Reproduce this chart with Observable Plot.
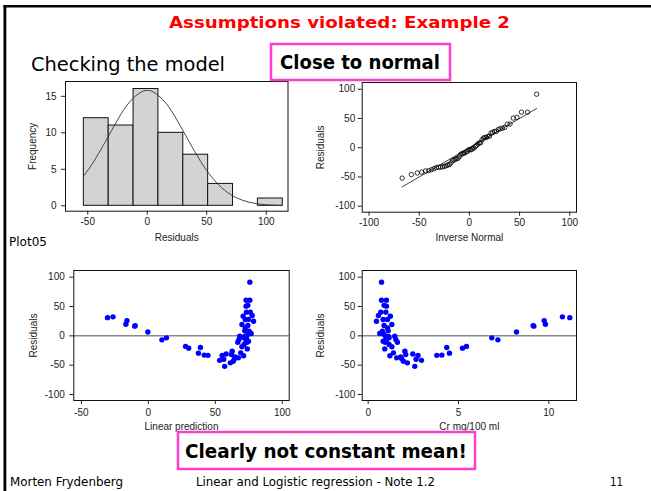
<!DOCTYPE html>
<html><head><meta charset="utf-8">
<script src="https://cdn.jsdelivr.net/npm/d3@7"></script>
<script src="https://cdn.jsdelivr.net/npm/@observablehq/plot@0.6"></script>
<style>
html,body{margin:0;padding:0;background:#fff;}
#page{position:relative;width:651px;height:491px;overflow:hidden;background:#fff;}
</style></head><body><div id="page"></div>
<script>
// ---------- data ----------
// histogram of residuals (bin edges and counts)
const histEdges = [-53.3, -32.4, -11.5, 9.4, 30.3, 51.2, 72.1, 93.0, 113.9];
const histCounts = [12, 11, 16, 10, 7, 3, 0, 1];
// overlaid normal curve
const normalCurveX = [-53, -45, -35, -25, -15, -5, 0, 5, 15, 25, 35, 45, 55, 65, 75, 85, 95, 105, 113];
const normalCurveY = [4.18, 6.05, 8.85, 11.75, 14.2, 15.6, 15.8, 15.6, 14.2, 11.75, 8.85, 6.05, 3.77, 2.14, 1.10, 0.52, 0.22, 0.09, 0.04];

// observations: creatinine, linear prediction, residual
const crValues = [11.16, 10.75, 9.81, 9.74, 9.17, 9.13, 8.21, 7.18, 6.84, 5.44, 5.22, 4.50, 4.35, 4.08, 3.80, 2.95, 2.76, 2.65, 2.58, 2.47,
  0.74, 0.74, 1.01, 0.88, 1.01, 0.70, 0.98, 0.57, 1.23, 0.46, 0.83, 1.07, 1.31, 0.88, 1.07, 0.79, 1.47, 0.64, 0.88, 0.98,
  1.16, 0.83, 1.01, 0.94, 1.53, 1.62, 1.16, 1.31, 0.92, 1.20, 1.40, 1.58, 1.86, 2.03, 2.08, 1.95, 2.17, 1.11, 1.12, 1.80];
const predValues = [-30.5, -26.4, -16.8, -16.0, -10.2, -9.8, -0.4, 10.1, 13.5, 27.8, 30.1, 37.4, 38.9, 41.7, 44.5, 53.2, 55.1, 56.3, 57.0, 58.1,
  75.8, 75.8, 73.0, 74.3, 73.0, 76.2, 73.3, 77.5, 70.8, 78.6, 74.8, 72.4, 69.9, 74.3, 72.4, 75.2, 68.3, 76.8, 74.3, 73.3,
  71.5, 74.8, 73.0, 73.7, 67.7, 66.8, 71.5, 69.9, 73.9, 71.1, 69.0, 67.2, 64.3, 62.6, 62.1, 63.4, 61.2, 72.0, 71.9, 64.9];
const residValues = [31.0, 32.4, 19.9, 26.0, 16.5, 17.5, 6.5, -6.8, -3.4, -18.0, -21.0, -29.5, -19.9, -32.8, -33.2, -41.8, -33.5, -39.8, -52.0, -31.0,
  91.5, 60.8, 60.8, 52.0, 50.6, 40.4, 40.4, 34.7, 33.5, 25.0, 27.9, 27.9, 19.3, 17.6, 13.6, 8.0, -0.6, 4.0, 2.2, -3.4,
  -3.4, -9.1, -9.1, -11.0, -6.3, -10.8, -14.8, -18.7, -22.2, -34.0, -29.0, -37.5, -39.2, -26.1, -31.8, -43.2, -46.0, 8.5, -1.0, -35.8];

// inverse-normal positions for the sorted residuals (normal plot x values)
const qnormX = [-67.0, -57.8, -51.9, -47.4, -43.7, -40.5, -37.7, -35.2, -32.9, -30.7, -28.7, -26.8, -25.0, -23.2, -21.6,
  -20.0, -18.4, -16.9, -15.4, -14.0, -12.6, -11.2, -9.9, -8.5, -7.2, -5.9, -4.6, -3.2, -1.9, -0.7,
  0.7, 1.9, 3.2, 4.6, 5.9, 7.2, 8.5, 9.9, 11.2, 12.6, 14.0, 15.4, 16.9, 18.4, 20.0,
  21.6, 23.2, 25.0, 26.8, 28.7, 30.7, 32.9, 35.2, 37.7, 40.5, 43.7, 47.4, 51.9, 57.8, 67.0];
const qnormRefLine = [-67, 67];

// tick labels
const histXTicks = [-50, 0, 50, 100];
const histYTicks = [0, 5, 10, 15];
const qqTicks = [-100, -50, 0, 50, 100];
const residTicks = [-100, -50, 0, 50, 100];
const predTicks = [-50, 0, 50, 100];
const crTicks = [0, 5, 10];

// texts
const slideTitle = "Assumptions violated: Example 2";
const subTitle = "Checking the model";
const note1 = "Close to normal";
const note2 = "Clearly not constant mean!";
const plotTag = "Plot05";
const footerLeft = "Morten Frydenberg";
const footerMid = "Linear and Logistic regression - Note 1.2";
const footerRight = "11";

// ---------- build ----------
const page = document.getElementById("page");
const font = "'Liberation Sans', Arial, Helvetica, sans-serif";
const baseStyle = {fontFamily: font, fontSize: "10px", background: "transparent", color: "#222", overflow: "visible"};
const fmt = d => String(d);
function place(svg, left, top) {
  svg.style.position = "absolute";
  svg.style.left = left + "px";
  svg.style.top = top + "px";
  page.appendChild(svg);
}

const histData = histCounts.map((n, i) => ({x1: histEdges[i], x2: histEdges[i + 1], n})).filter(d => d.n > 0);
const curveData = normalCurveX.map((x, i) => ({x, y: normalCurveY[i]}));
const obs = crValues.map((c, i) => ({cr: c, pred: predValues[i], resid: residValues[i]}));
const sortedResid = d3.sort(residValues);
const qqData = qnormX.map((x, i) => ({x, y: sortedResid[i]}));
const refData = qnormRefLine.map(v => ({x: v, y: v}));

// histogram
place(Plot.plot({
  width: 300, height: 175, marginLeft: 65, marginRight: 12.5, marginTop: 11, marginBottom: 34.3,
  style: baseStyle,
  x: {domain: [-68.7, 118.3]}, y: {domain: [-0.74, 17.03]},
  marks: [
    Plot.rect(histData, {x1: "x1", x2: "x2", y1: 0, y2: "n", fill: "#d3d3d3", stroke: "#111", strokeWidth: 1}),
    Plot.line(curveData, {x: "x", y: "y", curve: "natural", stroke: "#333", strokeWidth: 0.9}),
    Plot.frame({stroke: "#111"}),
    Plot.axisX({ticks: histXTicks, tickFormat: fmt, tickSize: 4, tickPadding: 3, label: "Residuals", labelAnchor: "center", labelArrow: "none", labelOffset: 30}),
    Plot.axisY({ticks: histYTicks, tickFormat: fmt, tickSize: 4, tickPadding: 5, label: "Frequency", labelAnchor: "center", labelArrow: "none", labelOffset: 37})
  ]
}), 0, 70);

// normal plot
place(Plot.plot({
  width: 300, height: 175, marginLeft: 61.7, marginRight: 24, marginTop: 12, marginBottom: 33.3,
  style: baseStyle,
  x: {domain: [-106.8, 106.7]}, y: {domain: [-110.3, 111.5]},
  marks: [
    Plot.line(refData, {x: "x", y: "y", stroke: "#111", strokeWidth: 0.8}),
    Plot.dot(qqData, {x: "x", y: "y", r: 2.2, stroke: "#000", strokeWidth: 0.8, fill: "none"}),
    Plot.frame({stroke: "#111"}),
    Plot.axisX({ticks: qqTicks, tickFormat: fmt, tickSize: 4, tickPadding: 3, label: "Inverse Normal", labelAnchor: "center", labelArrow: "none", labelOffset: 29}),
    Plot.axisY({ticks: qqTicks, tickFormat: fmt, tickSize: 4, tickPadding: 3, label: "Residuals", labelAnchor: "center", labelArrow: "none", labelOffset: 45})
  ]
}), 300, 70);

// residuals vs linear prediction
place(Plot.plot({
  width: 300, height: 175, marginLeft: 73.3, marginRight: 11.3, marginTop: 8, marginBottom: 37,
  style: baseStyle,
  x: {domain: [-55.7, 105.2]}, y: {domain: [-110.2, 111.4]},
  marks: [
    Plot.ruleY([0], {stroke: "#8a8a8a", strokeWidth: 1.5}),
    Plot.dot(obs, {x: "pred", y: "resid", r: 2.7, fill: "#0000ff", stroke: "none"}),
    Plot.frame({stroke: "#111"}),
    Plot.axisX({ticks: predTicks, tickFormat: fmt, tickSize: 4, tickPadding: 4, label: "Linear prediction", labelAnchor: "center", labelArrow: "none", labelOffset: 29}),
    Plot.axisY({ticks: residTicks, tickFormat: fmt, tickSize: 4, tickPadding: 5, label: "Residuals", labelAnchor: "center", labelArrow: "none", labelOffset: 44})
  ]
}), 0, 262);

// residuals vs creatinine
place(Plot.plot({
  width: 300, height: 175, marginLeft: 61.7, marginRight: 24, marginTop: 8, marginBottom: 37,
  style: baseStyle,
  x: {domain: [-0.33, 11.53]}, y: {domain: [-110.2, 111.4]},
  marks: [
    Plot.ruleY([0], {stroke: "#8a8a8a", strokeWidth: 1.5}),
    Plot.dot(obs, {x: "cr", y: "resid", r: 2.7, fill: "#0000ff", stroke: "none"}),
    Plot.frame({stroke: "#111"}),
    Plot.axisX({ticks: crTicks, tickFormat: fmt, tickSize: 4, tickPadding: 4, label: "Cr mg/100 ml", labelAnchor: "center", labelArrow: "none", labelOffset: 29}),
    Plot.axisY({ticks: residTicks, tickFormat: fmt, tickSize: 4, tickPadding: 3, label: "Residuals", labelAnchor: "center", labelArrow: "none", labelOffset: 45})
  ]
}), 300, 262);

// slide decoration and texts
const slideFont = "'Comic Sans MS', 'DejaVu Sans', sans-serif";
const ov = d3.create("svg").attr("width", 651).attr("height", 491)
  .style("position", "absolute").style("left", "0px").style("top", "0px").style("pointer-events", "none");
ov.append("rect").attr("x", 3.5).attr("y", 5).attr("width", 648).attr("height", 2.5).attr("fill", "#000");
ov.append("rect").attr("x", 3.5).attr("y", 5).attr("width", 2.8).attr("height", 486).attr("fill", "#000");
function txt(s, x, y, size, opts = {}) {
  const t = ov.append("text").attr("x", x).attr("y", y).text(s)
    .attr("font-family", slideFont).attr("font-size", size)
    .attr("font-weight", opts.weight || "normal").attr("fill", opts.fill || "#000");
  if (opts.len) t.attr("textLength", opts.len).attr("lengthAdjust", "spacingAndGlyphs");
  return t;
}
txt(slideTitle, 169, 27.5, 16, {weight: "bold", fill: "#ff0000", len: 341});
txt(subTitle, 31, 70.5, 20, {len: 194});
ov.append("rect").attr("x", 271).attr("y", 44).attr("width", 179).attr("height", 36)
  .attr("fill", "#fff").attr("stroke", "#ff3fcc").attr("stroke-width", 2.5);
txt(note1, 280, 68.5, 19, {weight: "bold", len: 160});
txt(plotTag, 9, 246, 11.5, {len: 38});
ov.append("rect").attr("x", 178).attr("y", 432).attr("width", 297).attr("height", 37)
  .attr("fill", "#fff").attr("stroke", "#ff3fcc").attr("stroke-width", 2.5);
txt(note2, 185, 458, 19, {weight: "bold", len: 282});
txt(footerLeft, 10, 486, 12.5, {len: 113});
txt(footerMid, 196, 486, 12.5, {len: 239});
txt(footerRight, 610, 486, 12.5, {len: 13});
page.appendChild(ov.node());
</script>
</body></html>
